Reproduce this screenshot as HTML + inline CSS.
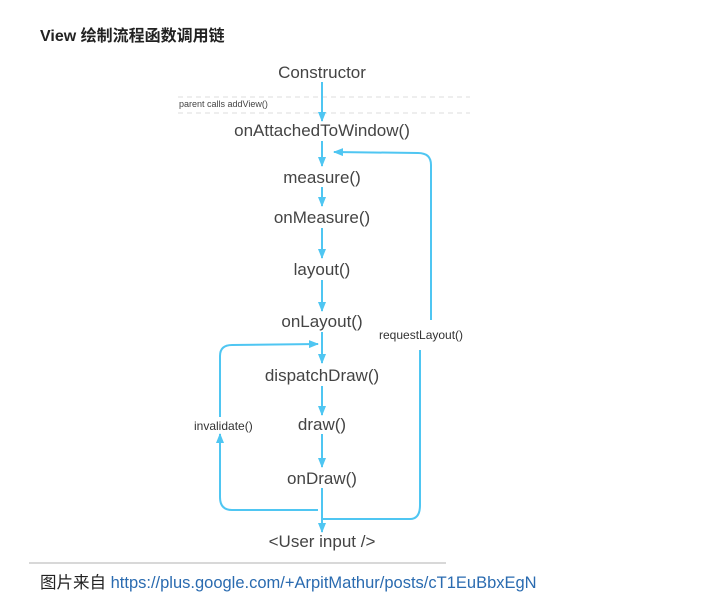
<!DOCTYPE html>
<html><head><meta charset="utf-8"><style>
body{margin:0;width:718px;height:594px;background:#fff;overflow:hidden;position:relative;font-family:"Liberation Sans","Noto Sans CJK SC",sans-serif}
.t{position:absolute;white-space:nowrap}
</style></head><body>
<div class="t" style="left:40px;top:22px;font-size:16px;font-weight:bold;color:#222">View 绘制流程函数调用链</div>
<svg width="718" height="594" style="position:absolute;left:0;top:0">
<defs><marker id="a" markerWidth="10" markerHeight="8" refX="9" refY="4" orient="auto" markerUnits="userSpaceOnUse"><path d="M0,0 L10,4 L0,8 z" fill="#4fc6f2"/></marker></defs>
<g stroke="#ddd" stroke-dasharray="5,4" stroke-width="1"><line x1="178" y1="97" x2="470" y2="97"/><line x1="178" y1="113" x2="470" y2="113"/></g>
<g stroke="#4fc6f2" stroke-width="2" fill="none" marker-end="url(#a)">
<line x1="322" y1="82" x2="322" y2="121"/>
<line x1="322" y1="141" x2="322" y2="166"/>
<line x1="322" y1="187" x2="322" y2="206"/>
<line x1="322" y1="228" x2="322" y2="258"/>
<line x1="322" y1="280" x2="322" y2="311"/>
<line x1="322" y1="332" x2="322" y2="363"/>
<line x1="322" y1="386" x2="322" y2="415"/>
<line x1="322" y1="434" x2="322" y2="467"/>
<line x1="322" y1="488" x2="322" y2="532"/>
<path d="M431,320 L431,165 Q431,153 418,153 L334,152"/>
<path d="M318,510 L232,510 Q220,510 220,497 L220,434"/>
<path d="M220,417 L220,356 Q220,345 232,345 L318,344"/>
</g>
<path d="M323,519 L410,519 Q420,519 420,505 L420,350" stroke="#4fc6f2" stroke-width="2" fill="none"/>
<line x1="29" y1="563" x2="446" y2="563" stroke="#ccc" stroke-width="1.5"/>
</svg>
<div style="position:absolute;left:0;top:2px;width:644px;font-size:17px;color:#444;text-align:center">
<div class="t" style="left:0;width:644px;top:61px">Constructor</div>
<div class="t" style="left:0;width:644px;top:119px">onAttachedToWindow()</div>
<div class="t" style="left:0;width:644px;top:166px">measure()</div>
<div class="t" style="left:0;width:644px;top:206px">onMeasure()</div>
<div class="t" style="left:0;width:644px;top:258px">layout()</div>
<div class="t" style="left:0;width:644px;top:310px">onLayout()</div>
<div class="t" style="left:0;width:644px;top:364px">dispatchDraw()</div>
<div class="t" style="left:0;width:644px;top:413px">draw()</div>
<div class="t" style="left:0;width:644px;top:467px">onDraw()</div>
<div class="t" style="left:0;width:644px;top:530px">&lt;User input /&gt;</div>
</div>
<div class="t" style="left:179px;top:99px;font-size:9px;color:#444">parent calls addView()</div>
<div class="t" style="left:379px;top:328px;font-size:12px;color:#333">requestLayout()</div>
<div class="t" style="left:194px;top:419px;font-size:12px;color:#333">invalidate()</div>
<div class="t" style="left:40px;top:569px;font-size:16.5px;color:#222">图片来自 <span style="color:#2a6bb0">https://plus.google.com/+ArpitMathur/posts/cT1EuBbxEgN</span></div>
</body></html>
